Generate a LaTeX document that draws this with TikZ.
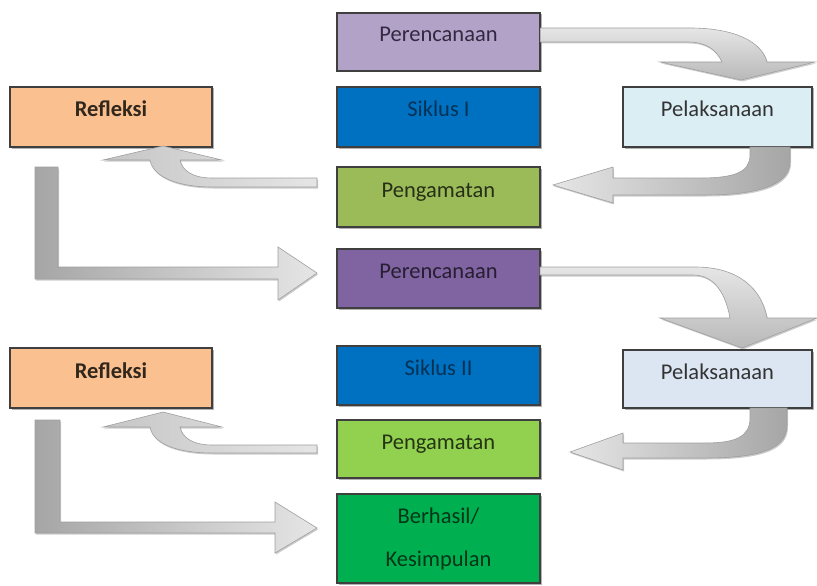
\documentclass[tikz,border=0pt]{standalone}
\usepackage{fontspec}
\setmainfont{Carlito}
\usepackage{tikz}
\usetikzlibrary{shadows}
\definecolor{garis}{HTML}{3F3F3F}
\definecolor{ungumuda}{HTML}{B3A2C7}
\definecolor{ungu}{HTML}{8064A2}
\definecolor{biru}{HTML}{0070C0}
\definecolor{zaitun}{HTML}{9BBB59}
\definecolor{hijaumuda}{HTML}{92D050}
\definecolor{hijau}{HTML}{00B050}
\definecolor{jingga}{HTML}{FAC090}
\definecolor{tosca}{HTML}{DBEEF4}
\definecolor{kelabu}{HTML}{DCE6F2}

\begin{document}
\begin{tikzpicture}[x=1pt, y=-1pt,
  kotak/.style={draw=garis, line width=1.1pt, minimum width=203pt, minimum height=59pt,
    inner sep=0pt, font=\fontsize{22.5}{26}\selectfont,
    drop shadow={shadow xshift=1.5pt, shadow yshift=-1.5pt, opacity=0.3, fill=black}},
  naik/.style={text height=15pt, text depth=15pt},
  panah/.style={draw=gray!75, line width=0.6pt,
    drop shadow={shadow xshift=1pt, shadow yshift=-1.5pt, opacity=0.2, fill=black}}]
  \useasboundingbox (0,0) rectangle (817,586);

  % Siklus I
  \node[kotak, naik, fill=ungumuda, text=ungu!40!black, minimum height=58pt] (pren1) at (438.5,42) {Perencanaan};
  \node[kotak, naik, fill=biru, text=biru!45!black, minimum height=60pt] (siklus1) at (438.5,117) {Siklus I};
  \node[kotak, naik, fill=zaitun, text=zaitun!25!black, minimum height=60pt] (peng1) at (438.5,197) {Pengamatan};
  \node[kotak, naik, fill=jingga, text=jingga!20!black, minimum width=202pt, minimum height=60pt] (refl1) at (111,117) {\bfseries Refleksi};
  \node[kotak, naik, fill=tosca, text=black!80, minimum width=189pt, minimum height=60pt] (pel1) at (717.5,117) {Pelaksanaan};

  % Siklus II
  \node[kotak, naik, fill=ungu, text=ungu!30!black] (pren2) at (438.5,278.5) {Perencanaan};
  \node[kotak, naik, fill=biru, text=biru!45!black] (siklus2) at (438.5,375.5) {Siklus II};
  \node[kotak, naik, fill=hijaumuda, text=hijaumuda!25!black, minimum height=58pt] (peng2) at (438.5,449) {Pengamatan};
  \node[kotak, naik, fill=jingga, text=jingga!20!black, minimum width=202pt, minimum height=60pt] (refl2) at (111,378) {\bfseries Refleksi};
  \node[kotak, naik, fill=kelabu, text=black!80, minimum width=189pt, minimum height=58pt] (pel2) at (717.5,379) {Pelaksanaan};
  \node[kotak, fill=hijau, text=hijau!30!black, minimum height=89pt, align=center,
    font=\fontsize{22.5}{43}\selectfont] (hasil) at (438.5,538.5) {Berhasil/\\Kesimpulan};

  % Panah siklus I
  \draw[panah, top color=gray!20, bottom color=gray!55]
    (pren1.east |- 0,28) -- (690,28) .. controls (735,28) and (762,42) .. (767,62)
    -- (815,62) -- (741,80) -- (660,62) -- (722,62)
    .. controls (716,49) and (705,42) .. (688,42) -- (pren1.east) -- cycle;
  \draw[panah, left color=gray!20, right color=gray!70]
    (750,147) -- (750,155) .. controls (750,172) and (735,178) .. (700,178)
    -- (613,178) -- (613,167) -- (553,185) -- (613,203) -- (613,195) -- (705,195)
    .. controls (770,195) and (790,180) .. (790,162) -- (790,147) -- cycle;
  \draw[panah, left color=gray!45, right color=gray!20]
    (317,178) -- (212,178) .. controls (192,178) and (182,170) .. (180,160)
    -- (222,160) -- (163,146) -- (103,160) -- (150,160)
    .. controls (153,178) and (180,187) .. (212,187) -- (317,187) -- cycle;
  \draw[panah, left color=gray!70, right color=gray!20]
    (35,167) -- (58,167) -- (58,267) -- (278,267) -- (278,247) -- (317,273)
    -- (278,300) -- (278,279) -- (35,279) -- cycle;

  % Panah siklus II
  \draw[panah, top color=gray!20, bottom color=gray!55]
    (540,267) -- (695,267) .. controls (740,267) and (762,290) .. (767,318)
    -- (817,318) -- (742,348) -- (660,318) -- (730,318)
    .. controls (725,290) and (712,275) .. (693,275) -- (540,275) -- cycle;
  \draw[panah, left color=gray!20, right color=gray!70]
    (750,408) -- (750,418) .. controls (750,437) and (735,443) .. (705,443)
    -- (623,443) -- (623,433) -- (570,452) -- (623,470) -- (623,458) -- (705,458)
    .. controls (770,458) and (787,445) .. (787,425) -- (787,408) -- cycle;
  \draw[panah, left color=gray!45, right color=gray!20]
    (317,445) -- (212,445) .. controls (192,445) and (182,437) .. (180,427)
    -- (222,427) -- (163,412) -- (103,427) -- (150,427)
    .. controls (153,445) and (180,453) .. (212,453) -- (317,453) -- cycle;
  \draw[panah, left color=gray!70, right color=gray!20]
    (35,420) -- (60,420) -- (60,522) -- (275,522) -- (275,502) -- (317,528)
    -- (275,553) -- (275,533) -- (35,533) -- cycle;
\end{tikzpicture}
\end{document}
